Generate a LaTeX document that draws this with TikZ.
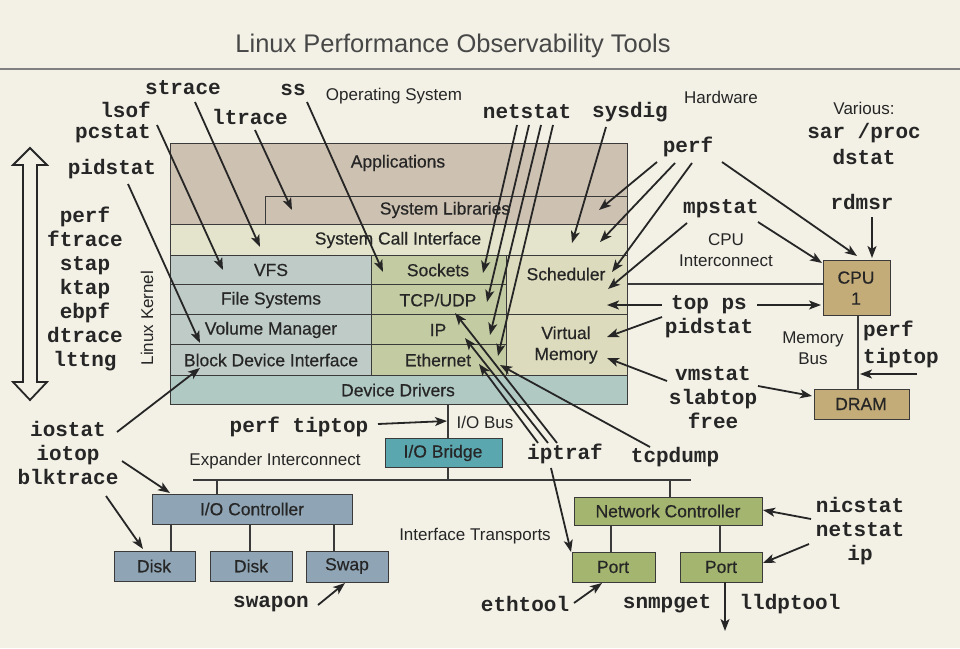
\documentclass[tikz,border=0pt]{standalone}
\usepackage{fontspec}
\setmainfont{Liberation Sans}
\setmonofont{Liberation Mono}
\newfontfamily\medfont{Liberation Sans}[UprightFeatures={FakeBold=0.5}]
\usetikzlibrary{arrows.meta}
\definecolor{bg}{HTML}{F3F1E6}
\definecolor{ink}{HTML}{262626}
\definecolor{edge}{HTML}{3A3A3A}
\definecolor{appsc}{HTML}{CDC1B1}
\definecolor{sysc}{HTML}{E4E4CC}
\definecolor{leftc}{HTML}{BFCBC7}
\definecolor{midc}{HTML}{C3CBA2}
\definecolor{rightc}{HTML}{DDDBBE}
\definecolor{drvc}{HTML}{B1C9C3}
\definecolor{bridgec}{HTML}{5BA7B0}
\definecolor{storc}{HTML}{8FA5B5}
\definecolor{netc}{HTML}{A3B56F}
\definecolor{hwc}{HTML}{C4AC78}
\begin{document}
\begin{tikzpicture}[x=1pt,y=-1pt,
  tool/.style={font=\fontsize{21}{24}\selectfont\ttfamily\bfseries, text=ink, inner sep=0pt, align=center},
  lab/.style={font=\fontsize{17}{21}\selectfont, text=ink, inner sep=0pt, align=center},
  blab/.style={font=\fontsize{17.5}{21}\selectfont\medfont, text=ink, inner sep=0pt, align=center},
  box/.style={draw=edge, line width=1.4pt, inner sep=0pt, anchor=north west},
  arr/.style={-{Stealth[length=12pt,width=9pt,inset=3pt]}, line width=1.8pt, draw=ink},
  bus/.style={line width=1.5pt, draw=edge}]
\fill[bg] (0,0) rectangle (960,648);
\useasboundingbox (0,0) rectangle (960,648);

% title
\node[font=\fontsize{25.5}{30}\selectfont, text=black!72, inner sep=0pt] (title) at (453,46) {Linux Performance Observability Tools};
\coordinate (tl) at (0,69);
\coordinate (tr) at (960,69);
\draw[line width=1.2pt, draw=black!50] (tl) -- (tr);

% kernel stack
\node[box, fill=appsc, minimum width=457pt, minimum height=81pt] (apps) at (170,143) {};
\node[box, fill=appsc, minimum width=362pt, minimum height=28pt] (syslib) at (265,196) {};
\node[box, fill=sysc, minimum width=457pt, minimum height=31pt] (syscall) at (170,224) {};
\node[box, fill=leftc, minimum width=201pt, minimum height=29pt] (vfs) at (170,255) {};
\node[box, fill=leftc, minimum width=201pt, minimum height=30pt] (fs) at (170,284) {};
\node[box, fill=leftc, minimum width=201pt, minimum height=30pt] (volm) at (170,314) {};
\node[box, fill=leftc, minimum width=201pt, minimum height=31pt] (bdi) at (170,344) {};
\node[box, fill=midc, minimum width=135pt, minimum height=29pt] (sock) at (371,255) {};
\node[box, fill=midc, minimum width=135pt, minimum height=30pt] (tcp) at (371,284) {};
\node[box, fill=midc, minimum width=135pt, minimum height=30pt] (ipb) at (371,314) {};
\node[box, fill=midc, minimum width=135pt, minimum height=31pt] (eth) at (371,344) {};
\node[box, fill=rightc, minimum width=121pt, minimum height=59pt] (sched) at (506,255) {};
\node[box, fill=rightc, minimum width=121pt, minimum height=61pt] (virt) at (506,314) {};
\node[box, fill=drvc, minimum width=457pt, minimum height=29pt] (drv) at (170,375) {};

\node[blab] (tapps) at (398,163) {Applications};
\node[blab] (tsyslib) at (445,210) {System Libraries};
\node[blab] (tsyscall) at (398,240) {System Call Interface};
\node[blab] (tvfs) at (271,270) {VFS};
\node[blab] (tfs) at (271,300) {File Systems};
\node[blab] (tvolm) at (271,330) {Volume Manager};
\node[blab] (tbdi) at (271,360) {Block Device Interface};
\node[blab] (tsock) at (438,270) {Sockets};
\node[blab] (ttcp) at (438,300) {TCP/UDP};
\node[blab] (tip) at (438,330) {IP};
\node[blab] (teth) at (438,360) {Ethernet};
\node[blab] (tsched) at (566,274) {Scheduler};
\node[blab] (tvirt) at (566,345) {Virtual\\Memory};
\node[blab] (tdrv) at (398,390) {Device Drivers};

% hardware
\node[box, fill=hwc, minimum width=67pt, minimum height=55pt] (cpu) at (823,260) {};
\node[blab] (tcpu) at (856,288) {CPU\\1};
\node[box, fill=hwc, minimum width=95pt, minimum height=30pt] (dram) at (814,389) {};
\node[blab] (tdram) at (861,404) {DRAM};
\node[box, fill=bridgec, minimum width=117pt, minimum height=29pt] (bridge) at (385,438) {};
\node[blab] (tbridge) at (443,453) {I/O Bridge};
\node[box, fill=storc, minimum width=200pt, minimum height=30pt] (ioc) at (152,494) {};
\node[blab] (tioc) at (252,509) {I/O Controller};
\node[box, fill=storc, minimum width=81pt, minimum height=30pt] (disk1) at (114,551) {};
\node[blab] (tdisk1) at (154,566) {Disk};
\node[box, fill=storc, minimum width=82pt, minimum height=30pt] (disk2) at (210,551) {};
\node[blab] (tdisk2) at (251,566) {Disk};
\node[box, fill=storc, minimum width=82pt, minimum height=31pt] (swap) at (306,551) {};
\node[blab] (tswap) at (347,566) {Swap};
\node[box, fill=netc, minimum width=188pt, minimum height=28pt] (nc) at (574,497) {};
\node[blab] (tnc) at (668,511) {Network Controller};
\node[box, fill=netc, minimum width=83pt, minimum height=30pt] (port1) at (572,552) {};
\node[blab] (tport1) at (613,567) {Port};
\node[box, fill=netc, minimum width=82pt, minimum height=30pt] (port2) at (680,552) {};
\node[blab] (tport2) at (721,567) {Port};

% buses
\coordinate (icL) at (627,284);
\coordinate (icR) at (823,284);
\draw[bus] (icL) -- (icR);
\coordinate (mbT) at (858,315);
\coordinate (mbB) at (858,389);
\draw[bus] (mbT) -- (mbB);
\coordinate (iobT) at (448,404);
\coordinate (iobB) at (448,438);
\draw[bus] (iobT) -- (iobB);
\coordinate (brB) at (448,467);
\coordinate (exB) at (448,480);
\draw[bus] (brB) -- (exB);
\coordinate (exL) at (193,480);
\coordinate (exR) at (691,480);
\draw[bus] (exL) -- (exR);
\coordinate (iocT) at (217,480);
\coordinate (iocC) at (217,494);
\draw[bus] (iocT) -- (iocC);
\coordinate (ncT) at (670,480);
\coordinate (ncC) at (670,497);
\draw[bus] (ncT) -- (ncC);
\foreach \x/\n in {171/d1,250/d2,334/d3}{
  \coordinate (\n t) at (\x,524);
  \coordinate (\n b) at (\x,551);
  \draw[bus] (\n t) -- (\n b);
}
\foreach \x/\n in {611/p1,720/p2}{
  \coordinate (\n t) at (\x,525);
  \coordinate (\n b) at (\x,552);
  \draw[bus] (\n t) -- (\n b);
}

% side labels
\node[lab] (os) at (394,96) {Operating System};
\node[lab] (hwl) at (721,97) {Hardware};
\node[lab] (various) at (864,108) {Various:};
\node[lab] (cpuic) at (726,250) {CPU\\Interconnect};
\node[lab] (membus) at (813,348) {Memory\\Bus};
\node[lab] (iobus) at (485,422) {I/O Bus};
\node[lab] (expic) at (275,461) {Expander Interconnect};
\node[lab] (iftr) at (475,536) {Interface Transports};
\node[lab, rotate=90] (lk) at (147,318) {Linux Kernel};

% double arrow
\draw[line width=1.8pt, draw=ink, line join=miter] (30,148) -- (47,165) -- (37,165) -- (37,382) -- (47,382) -- (30,400) -- (13,382) -- (23,382) -- (23,165) -- (13,165) -- cycle;

% tool labels
\node[tool] (strace) at (183,88) {strace};
\node[tool] (ss) at (293,90) {ss};
\node[tool, align=right, font=\fontsize{21}{21}\selectfont\ttfamily\bfseries] (lsof) at (113,122) {lsof\\pcstat};
\node[tool] (ltrace) at (250,117) {ltrace};
\node[tool] (pidstatA) at (112,169) {pidstat};
\node[tool] (tracers) at (85,289) {perf\\ftrace\\stap\\ktap\\ebpf\\dtrace\\lttng};
\node[tool] (netstatA) at (527,112) {netstat};
\node[tool] (sysdig) at (630,112) {sysdig};
\node[tool] (perfA) at (688,147) {perf};
\node[tool] (mpstat) at (721,209) {mpstat};
\node[tool] (sar) at (864,133) {sar /proc};
\node[tool] (dstat) at (864,157) {dstat};
\node[tool] (rdmsr) at (862,202) {rdmsr};
\node[tool] (topps) at (709,305) {top ps};
\node[tool] (pidstatB) at (709,328) {pidstat};
\node[tool] (vmstat) at (713,398) {vmstat\\slabtop\\free};
\node[tool, anchor=west] (perfB) at (863,331) {perf};
\node[tool, anchor=west] (tiptopB) at (863,358) {tiptop};
\node[tool] (iostat) at (68,453) {iostat\\iotop\\blktrace};
\node[tool] (perftt) at (299,427) {perf tiptop};
\node[tool] (iptraf) at (565,454) {iptraf};
\node[tool] (tcpdump) at (675,457) {tcpdump};
\node[tool] (nicstat) at (860,531) {nicstat\\netstat\\ip};
\node[tool] (swapon) at (271,604) {swapon};
\node[tool] (ethtool) at (525,604) {ethtool};
\node[tool] (snmpget) at (667,604) {snmpget};
\node[tool] (lldptool) at (790,604) {lldptool};

% arrow end points
\coordinate (lsofS) at (157,125);   \coordinate (lsofE) at (223,270);
\coordinate (straceS) at (195,102); \coordinate (straceE) at (260,247);
\coordinate (ltraceS) at (255,130); \coordinate (ltraceE) at (292,210);
\coordinate (ssS) at (307,102);     \coordinate (ssE) at (383,272);
\coordinate (pidS) at (128,184);    \coordinate (pidE) at (200,343);
\coordinate (ns1S) at (517,125);    \coordinate (ns1E) at (483,273);
\coordinate (ns2S) at (529,125);    \coordinate (ns2E) at (487,302);
\coordinate (ns3S) at (541,125);    \coordinate (ns3E) at (490,335);
\coordinate (ns4S) at (553,125);    \coordinate (ns4E) at (498,356);
\coordinate (sysdS) at (606,127);   \coordinate (sysdE) at (572,243);
\coordinate (pf1S) at (657,162);    \coordinate (pf1E) at (599,210);
\coordinate (pf2S) at (675,163);    \coordinate (pf2E) at (600,242);
\coordinate (pf3S) at (692,163);    \coordinate (pf3E) at (612,272);
\coordinate (pf4S) at (722,162);    \coordinate (pf4E) at (857,256);
\coordinate (mp1S) at (687,223);    \coordinate (mp1E) at (608,289);
\coordinate (mp2S) at (758,222);    \coordinate (mp2E) at (822,263);
\coordinate (rdS) at (872,217);     \coordinate (rdE) at (872,258);
\coordinate (tp1S) at (662,305);    \coordinate (tp1E) at (607,305);
\coordinate (tp2S) at (757,305);    \coordinate (tp2E) at (821,305);
\coordinate (pdS) at (662,317);     \coordinate (pdE) at (607,337);
\coordinate (vm1S) at (667,381);    \coordinate (vm1E) at (607,358);
\coordinate (vm2S) at (758,386);    \coordinate (vm2E) at (812,396);
\coordinate (ptS) at (917,374);     \coordinate (ptE) at (860,374);
\coordinate (tdS) at (650,447);     \coordinate (tdE) at (500,365);
\coordinate (ip1S) at (557,443);    \coordinate (ip1E) at (455,313);
\coordinate (ip2S) at (548,443);    \coordinate (ip2E) at (465,338);
\coordinate (ip3S) at (538,443);    \coordinate (ip3E) at (479,364);
\coordinate (ip4S) at (551,468);    \coordinate (ip4E) at (571,552);
\coordinate (nicS) at (811,519);    \coordinate (nicE) at (763,510);
\coordinate (nsbS) at (809,544);    \coordinate (nsbE) at (763,563);
\coordinate (ethS) at (574,603);    \coordinate (ethE) at (602,583);
\coordinate (iosS) at (117,432);    \coordinate (iosE) at (200,368);
\coordinate (iotS) at (122,461);    \coordinate (iotE) at (170,493);
\coordinate (blkS) at (106,496);    \coordinate (blkE) at (143,549);
\coordinate (pttS) at (378,424);    \coordinate (pttE) at (447,421);
\coordinate (swS) at (318,605);     \coordinate (swE) at (345,583);
\coordinate (p2S) at (725,582);     \coordinate (p2E) at (725,631);

\foreach \a in {lsof,strace,ltrace,ss,pid,ns1,ns2,ns3,ns4,sysd,pf1,pf2,pf3,pf4,mp1,mp2,rd,tp1,tp2,pd,vm1,vm2,pt,td,ip1,ip2,ip3,ip4,nic,nsb,eth,ios,iot,blk,ptt,sw,p2}{
  \draw[arr] (\a S) -- (\a E);
}
\end{tikzpicture}
\end{document}
